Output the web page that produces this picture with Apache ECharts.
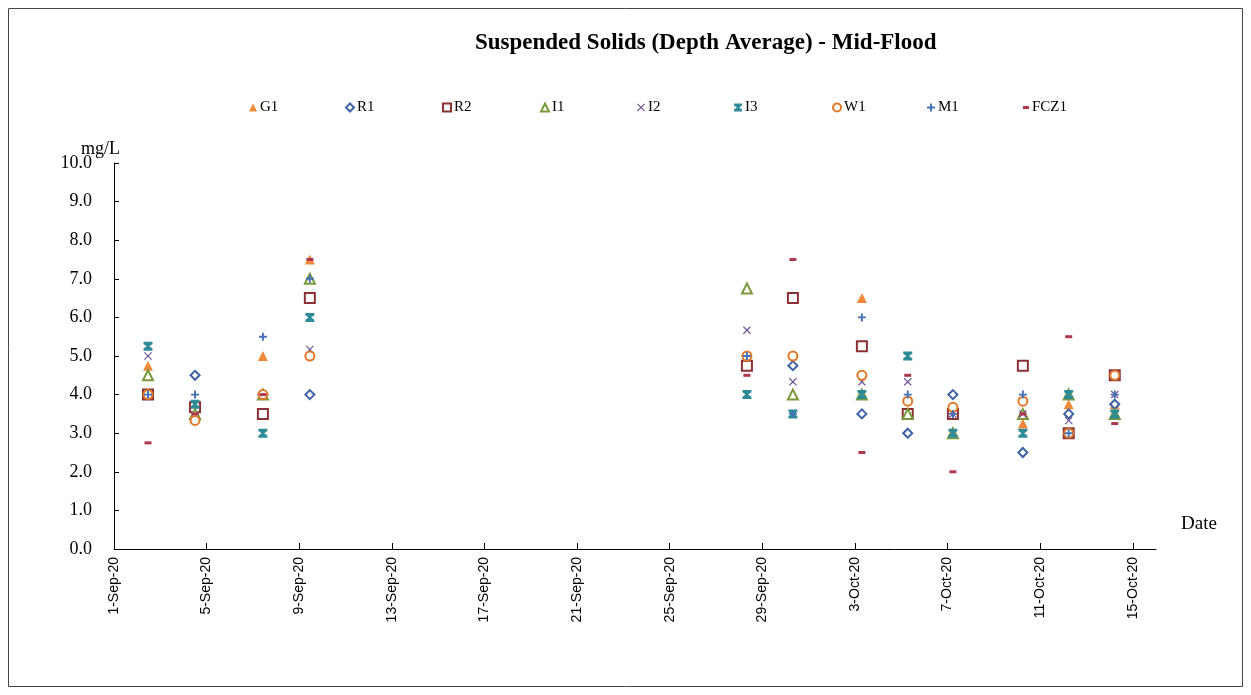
<!DOCTYPE html>
<html>
<head>
<meta charset="utf-8">
<title>Suspended Solids (Depth Average) - Mid-Flood</title>
<script src="https://cdn.jsdelivr.net/npm/echarts@6/dist/echarts.min.js"></script>
<style>
    html, body { margin: 0; padding: 0; background: #fff; }
    #chart { width: 1251px; height: 695px; }
</style>
</head>
<body>
<div id="chart"></div>
<script>
    // sampling times (mid-flood)
    const sampleDates = [
        '2020-09-02 11:15', '2020-09-04 12:00', '2020-09-07 10:20', '2020-09-09 11:00',
        '2020-09-28 08:00', '2020-09-30 07:40', '2020-10-03 07:10', '2020-10-05 06:40',
        '2020-10-07 05:30', '2020-10-10 06:00', '2020-10-12 05:30', '2020-10-14 05:15'
    ];

    const stations = ['G1', 'R1', 'R2', 'I1', 'I2', 'I3', 'W1', 'M1', 'FCZ1'];

    const G1   = [4.75, 3.5, 5.0, 7.5, 5.0, 4.0, 6.5, 3.5, 3.5, 3.25, 3.75, 3.75];
    const R1   = [4.0, 4.5, 4.0, 4.0, 4.75, 4.75, 3.5, 3.0, 4.0, 2.5, 3.5, 3.75];
    const R2   = [4.0, 3.67, 3.5, 6.5, 4.75, 6.5, 5.25, 3.5, 3.5, 4.75, 3.0, 4.5];
    const I1   = [4.5, 3.5, 4.0, 7.0, 6.75, 4.0, 4.0, 3.5, 3.0, 3.5, 4.0, 3.5];
    const I2   = [5.0, 3.75, 4.0, 5.17, 5.67, 4.33, 4.33, 4.33, 3.5, 3.5, 3.33, 4.0];
    const I3   = [5.25, 3.75, 3.0, 6.0, 4.0, 3.5, 4.0, 5.0, 3.0, 3.0, 4.0, 3.5];
    const W1   = [4.0, 3.33, 4.0, 5.0, 5.0, 5.0, 4.5, 3.83, 3.67, 3.83, 3.0, 4.5];
    const M1   = [4.0, 4.0, 5.5, 7.0, 5.0, 3.5, 6.0, 4.0, 3.5, 4.0, 3.0, 4.0];
    const FCZ1 = [2.75, 3.5, 4.0, 7.5, 4.5, 7.5, 2.5, 4.5, 2.0, 3.5, 5.5, 3.25];

    const yTicks = [0, 1, 2, 3, 4, 5, 6, 7, 8, 9, 10];

    const MONTHS = ['Jan', 'Feb', 'Mar', 'Apr', 'May', 'Jun', 'Jul', 'Aug', 'Sep', 'Oct', 'Nov', 'Dec'];
    const DAY = 86400000;
    const START = Date.UTC(2020, 8, 1);

    // days since 1-Sep-20
    function dayOffset (s) {
        const [d, t] = s.split(' ');
        const [y, m, dd] = d.split('-').map(Number);
        const [h, mi] = t.split(':').map(Number);
        return (Date.UTC(y, m - 1, dd, h, mi) - START) / DAY;
    }

    function dayLabel (v) {
        const d = new Date(START + Math.round(v) * DAY);
        return d.getUTCDate() + '-' + MONTHS[d.getUTCMonth()] + '-' + String(d.getUTCFullYear()).slice(2);
    }

    const values = { G1, R1, R2, I1, I2, I3, W1, M1, FCZ1 };
    const xDays = sampleDates.map(dayOffset);

    const SYM_X = 'path://M0,1 L1,0 L5,4 L9,0 L10,1 L6,5 L10,9 L9,10 L5,6 L1,10 L0,9 L4,5 Z';
    const SYM_HOUR = 'path://M0,0 L10,0 L10,2.5 L6.5,5 L10,7.5 L10,10 L0,10 L0,7.5 L3.5,5 L0,2.5 Z';
    const SYM_PLUS = 'path://M3.8,0 L6.2,0 L6.2,3.8 L10,3.8 L10,6.2 L6.2,6.2 L6.2,10 L3.8,10 L3.8,6.2 L0,6.2 L0,3.8 L3.8,3.8 Z';

    const styles = {
        G1:   { symbol: 'triangle', size: 10, color: '#F08A3A', fill: true },
        R1:   { symbol: 'diamond', size: 9, color: '#3D62A6', fill: false },
        R2:   { symbol: 'rect', size: 10, color: '#8C3034', fill: false },
        I1:   { symbol: 'triangle', size: 10, color: '#7A9A3A', fill: false },
        I2:   { symbol: SYM_X, size: 8, color: '#6A4C90', fill: true },
        I3:   { symbol: SYM_HOUR, size: 9, color: '#2F8B98', fill: true },
        W1:   { symbol: 'circle', size: 9, color: '#E07828', fill: false },
        M1:   { symbol: SYM_PLUS, size: 8, color: '#4572B6', fill: true },
        FCZ1: { symbol: 'rect', size: [7, 3], color: '#B0384C', fill: true }
    };

    function itemStyleOf (st) {
        return st.fill
            ? { color: st.color, opacity: 1 }
            : { color: '#fff', borderColor: st.color, borderWidth: 2, opacity: 1 };
    }

    const legendLeft = [244, 340, 437, 535, 632, 729, 827, 922, 1018];

    const chart = echarts.init(document.getElementById('chart'), null, { renderer: 'canvas' });

    chart.setOption({
        animation: false,
        backgroundColor: '#fff',
        title: {
            text: 'Suspended Solids (Depth Average) - Mid-Flood',
            left: 470,
            top: 27,
            textStyle: {
                fontFamily: 'Liberation Serif',
                fontWeight: 'bold',
                fontSize: 23,
                color: '#000'
            }
        },
        legend: stations.map((name, i) => {
            const st = styles[name];
            const isDash = name === 'FCZ1';
            return {
                data: [{
                    name: name,
                    icon: typeof st.symbol === 'string' ? st.symbol : 'rect',
                    itemStyle: itemStyleOf(st)
                }],
                left: legendLeft[i],
                top: 95,
                itemWidth: isDash ? 6 : 8,
                itemHeight: isDash ? 3 : 8,
                textStyle: {
                    fontFamily: 'Liberation Serif',
                    fontSize: 15,
                    color: '#000',
                    padding: [0, 0, 0, -2]
                }
            };
        }),
        grid: {
            left: 114,
            right: 95,
            top: 163,
            bottom: 146
        },
        xAxis: {
            type: 'value',
            min: 0,
            max: 45,
            interval: 4,
            axisLine: { lineStyle: { color: '#000', width: 1 } },
            axisTick: { inside: true, length: 6, lineStyle: { color: '#000' } },
            splitLine: { show: false },
            axisLabel: {
                rotate: 90,
                margin: 8,
                showMaxLabel: false,
                formatter: dayLabel,
                fontFamily: 'Liberation Sans',
                fontSize: 14,
                color: '#000'
            }
        },
        yAxis: {
            type: 'value',
            min: yTicks[0],
            max: yTicks[yTicks.length - 1],
            interval: 1,
            axisLine: { show: true, lineStyle: { color: '#000', width: 1 } },
            axisTick: { show: true, inside: true, length: 5, lineStyle: { color: '#000' } },
            splitLine: { show: false },
            axisLabel: {
                margin: 22,
                formatter: v => v.toFixed(1),
                fontFamily: 'Liberation Serif',
                fontSize: 18,
                color: '#000'
            }
        },
        series: stations.map(name => {
            const st = styles[name];
            return {
                name: name,
                type: 'scatter',
                symbol: st.symbol,
                symbolSize: st.size,
                itemStyle: itemStyleOf(st),
                color: st.color,
                emphasis: { disabled: true },
                data: values[name].map((v, i) => [xDays[i], v])
            };
        }),
        graphic: [
            {
                type: 'rect',
                shape: { x: 8.5, y: 8.5, width: 1234, height: 678 },
                style: { fill: null, stroke: '#444', lineWidth: 1 },
                silent: true
            },
            {
                type: 'text',
                left: 81,
                top: 140,
                style: { text: 'mg/L', font: '18px "Liberation Serif"', fill: '#000' }
            },
            {
                type: 'text',
                left: 1181,
                top: 515,
                style: { text: 'Date', font: '19px "Liberation Serif"', fill: '#000' }
            }
        ]
    });
</script>
</body>
</html>
